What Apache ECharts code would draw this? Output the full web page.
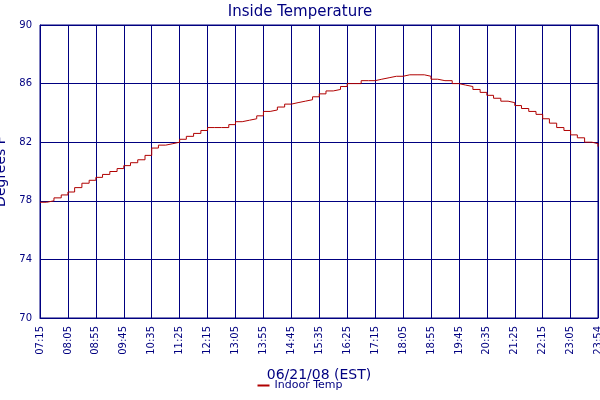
<!DOCTYPE html>
<html><head><meta charset="utf-8">
<script src="https://cdn.jsdelivr.net/npm/echarts@6/dist/echarts.min.js"></script>
<style>html,body{margin:0;padding:0;background:#fff}#c{width:600px;height:400px}</style>
</head><body><div id="c"></div>
<script>
const minutes = [0,12,25,38,50,62,75,88,100,112,125,138,150,162,175,188,200,212,225,238,250,262,275,288,300,312,325,338,350,362,375,388,400,412,425,438,450,462,475,488,500,512,525,538,550,562,575,588,600,612,625,638,650,662,675,688,700,712,725,738,750,762,775,788,800,812,825,838,850,862,875,888,900,912,925,938,950,962,975,988,999];
const temps = [77.9,78.0,78.2,78.4,78.6,78.9,79.2,79.4,79.6,79.8,80.0,80.2,80.4,80.6,80.8,81.1,81.6,81.8,81.9,82.0,82.2,82.4,82.6,82.8,83.0,83.0,83.0,83.2,83.4,83.5,83.6,83.8,84.1,84.2,84.4,84.6,84.7,84.8,84.9,85.1,85.3,85.5,85.6,85.8,86.0,86.0,86.2,86.2,86.3,86.4,86.5,86.5,86.6,86.6,86.6,86.5,86.3,86.2,86.2,86.0,85.9,85.8,85.6,85.4,85.2,85.0,84.8,84.7,84.5,84.3,84.1,83.9,83.6,83.3,83.0,82.8,82.5,82.3,82.0,81.9,81.7];
const yTicks = [70,74,78,82,86,90];
const navy = '#000080';
function fmt(m){const t=7*60+15+m;const h=Math.floor(t/60),mm=t%60;return String(h).padStart(2,'0')+':'+String(mm).padStart(2,'0');}
const chart = echarts.init(document.getElementById('c'));
chart.setOption({
  animation:false,
  textStyle:{fontFamily:'DejaVu Sans'},
  title:{text:'Inside Temperature',left:'center',top:0,textStyle:{color:navy,fontSize:15,fontWeight:'normal',fontFamily:'DejaVu Sans'}},
  legend:{bottom:4,left:'center',data:['Indoor Temp'],icon:'rect',itemWidth:12,itemHeight:2,textStyle:{color:navy,fontSize:11}},
  grid:{left:40,right:2,top:25,bottom:82,containLabel:false,outerBoundsMode:'none',show:true,borderColor:navy,borderWidth:1},
  xAxis:{type:'value',min:0,max:999,interval:50,name:'06/21/08 (EST)',nameLocation:'middle',nameGap:50,
    nameTextStyle:{color:navy,fontSize:14},
    axisLine:{lineStyle:{color:navy}},axisTick:{show:false},
    axisLabel:{color:navy,fontSize:10,rotate:90,showMaxLabel:true,formatter:v=>fmt(v)},
    splitLine:{show:true,lineStyle:{color:navy,width:1}}},
  yAxis:{type:'value',min:yTicks[0],max:yTicks[yTicks.length-1],interval:4,name:'Degrees F',nameLocation:'middle',nameGap:26,
    nameTextStyle:{color:navy,fontSize:14},
    axisLine:{show:true,lineStyle:{color:navy}},axisTick:{show:false},
    axisLabel:{color:navy,fontSize:10},
    splitLine:{show:true,lineStyle:{color:navy,width:1}}},
  series:[{name:'Indoor Temp',type:'line',step:'end',symbol:'none',
    data:minutes.map((m,i)=>[m,temps[i]]),lineStyle:{color:'#b00000',width:1},itemStyle:{color:'#b00000'}}]
});
</script></body></html>
